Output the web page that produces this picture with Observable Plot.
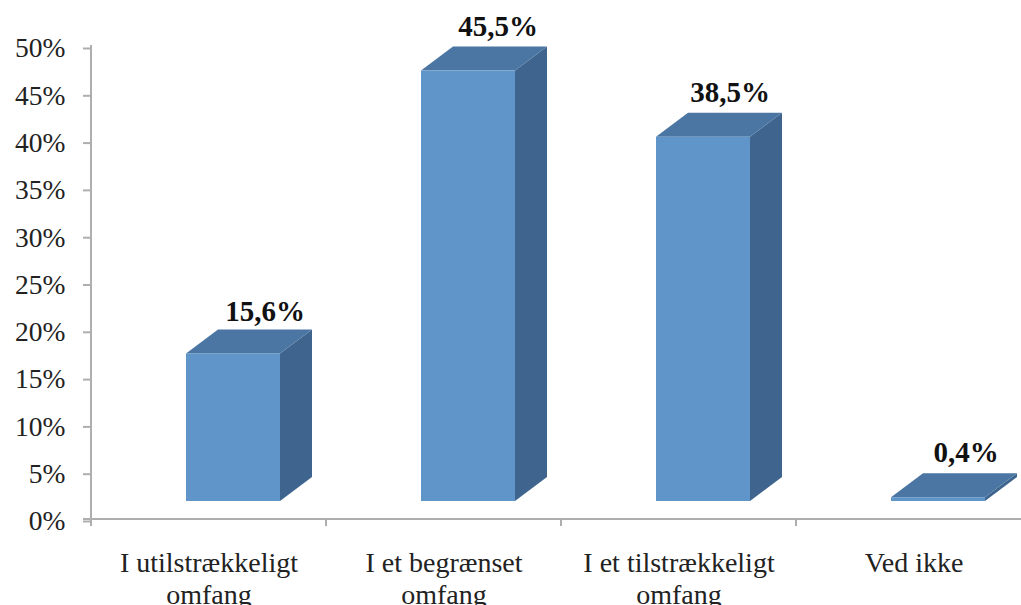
<!DOCTYPE html>
<html><head><meta charset="utf-8">
<script src="https://cdn.jsdelivr.net/npm/d3@7"></script>
<script src="https://cdn.jsdelivr.net/npm/@observablehq/plot@0.6"></script>
<style>html,body{margin:0;padding:0;background:#fff;overflow:hidden}svg{display:block}</style>
</head><body><div id="c"></div>
<script>
const categories = ["I utilstrækkeligt\nomfang", "I et begrænset\nomfang", "I et tilstrækkeligt\nomfang", "Ved ikke"];
const values = [15.6, 45.5, 38.5, 0.4];
const labels = ["15,6%", "45,5%", "38,5%", "0,4%"];
const yTicks = [0, 5, 10, 15, 20, 25, 30, 35, 40, 45, 50];

const rows = categories.map((c, i) => ({c, v: values[i], l: labels[i]}));
const font = "'Liberation Serif', serif";
const lift = 18, depthX = 32, depthY = 24, insetL = 95, insetR = 46;
const axisColor = "#aeaeae";
const labelNudges = [[56, -60], [54, -62], [51, -63], [52, -63]];

function faces(fill, pts) {
  return (index, {x, y}) => {
    const step = x(categories[1]) - x(categories[0]);
    const g = d3.create("svg:g");
    g.selectAll("polygon").data(rows).join("polygon")
      .attr("fill", fill)
      .attr("points", d => {
        const x0 = x(d.c) + insetL, x1 = x(d.c) + step - insetR;
        const top = y(d.v) - lift, bot = y(0) - lift;
        return pts(x0, x1, top, bot).map(p => p.join(",")).join(" ");
      });
    return g.node();
  };
}

const axes = (index, {x, y}) => {
  const g = d3.create("svg:g").attr("stroke", axisColor).attr("stroke-width", 2);
  g.append("line").attr("x1", x(categories[0])).attr("x2", x(categories[0])).attr("y1", y(50) - 1).attr("y2", y(0) + 7);
  g.append("line").attr("x1", x(categories[0]) - 8).attr("x2", 1021).attr("y1", y(0)).attr("y2", y(0));
  categories.slice(1).forEach(c => g.append("line").attr("x1", x(c)).attr("x2", x(c)).attr("y1", y(0)).attr("y2", y(0) + 7));
  return g.node();
};

const chart = Plot.plot({
  width: 1021, height: 605,
  marginTop: 46, marginBottom: 86, marginLeft: 91, marginRight: 0,
  style: {background: "#fff", fontFamily: font},
  x: {type: "band", domain: categories, range: [91, 1031], padding: 0, label: null},
  y: {domain: [0, 50], range: [519, 46], label: null},
  marks: [
    Plot.axisY({ticks: yTicks, tickSize: 8, tickPadding: 18, stroke: axisColor, strokeWidth: 2, strokeOpacity: 1,
      tickFormat: d => d + "%", fontSize: 27.5, fill: "#222", dy: 2, label: null}),
    Plot.axisX({tickSize: 0, tickPadding: 30, fontSize: 28, fill: "#222", lineHeight: 1.14, label: null}),
    axes,
    faces("#3f658f", (x0, x1, t, b) => [[x1, t], [x1 + depthX, t - depthY], [x1 + depthX, b - depthY], [x1, b]]),
    faces("#4b76a3", (x0, x1, t, b) => [[x0, t], [x0 + depthX, t - depthY], [x1 + depthX, t - depthY], [x1, t]]),
    Plot.barY(rows, {x: "c", y: "v", dy: -lift, insetLeft: insetL, insetRight: insetR, fill: "#6095c9"}),
    ...rows.map((r, i) => Plot.text([r], {x: "c", y: "v", text: "l", dx: labelNudges[i][0], dy: labelNudges[i][1],
      fontSize: 29, fontWeight: "bold", fill: "#111"}))
  ]
});
document.getElementById("c").append(chart);
</script></body></html>
